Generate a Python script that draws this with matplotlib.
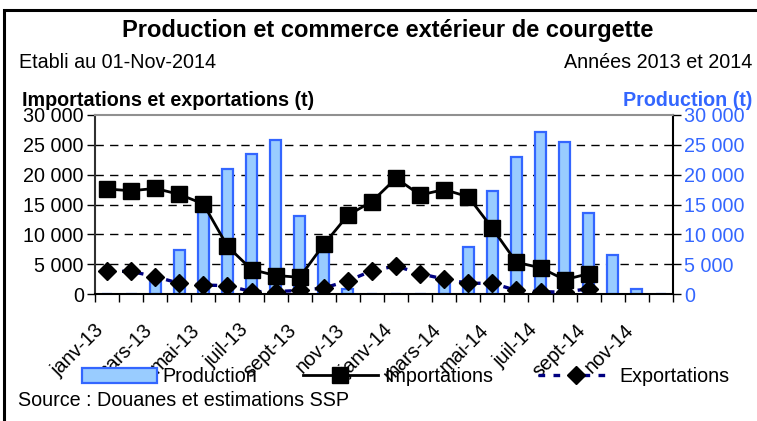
import matplotlib
matplotlib.use("Agg")
import matplotlib.pyplot as plt
import matplotlib.transforms as mtransforms
from matplotlib.patches import Rectangle
import numpy as np

plt.rcParams["font.family"] = ["Liberation Sans", "DejaVu Sans"]

months = ["janv-13", "févr-13", "mars-13", "avr-13", "mai-13", "juin-13",
          "juil-13", "août-13", "sept-13", "oct-13", "nov-13", "déc-13",
          "janv-14", "févr-14", "mars-14", "avr-14", "mai-14", "juin-14",
          "juil-14", "août-14", "sept-14", "oct-14", "nov-14", "déc-14"]
production = [0, 0, 2100, 7300, 13800, 20900, 23400, 25800, 13100, 7100, 800, 0,
              0, 0, 2200, 7800, 17300, 22900, 27100, 25400, 13500, 6600, 800, 0]
importations = [17600, 17300, 17700, 16700, 15100, 8000, 4100, 3100, 2800, 8300, 13200, 15500,
                19400, 16600, 17500, 16300, 11000, 5300, 4400, 2400, 3400]
exportations = [3800, 3800, 2900, 1800, 1500, 1400, 400, 400, 600, 1000, 2200, 3900,
                4700, 3400, 2500, 1800, 1800, 600, 400, 300, 900]
yticks = [0, 5000, 10000, 15000, 20000, 25000, 30000]
ytick_labels = ["0", "5 000", "10 000", "15 000", "20 000", "25 000", "30 000"]

BAR_FILL = "#99ccff"
BAR_EDGE = "#3366ff"
RIGHT_BLUE = "#3366ff"
FS = 14.2

W, H = 757, 421
fig = plt.figure(figsize=(W / 100, H / 100), dpi=100)
fig.patch.set_facecolor("white")

# outer frame (right and bottom edges fall outside the picture)
fig.patches.append(Rectangle((4 / W, -0.1), 1.2, (H - 10) / H + 0.1, transform=fig.transFigure,
                             fill=False, edgecolor="black", linewidth=2.2, zorder=0))

ax = fig.add_axes([95 / W, 1 - 294 / H, (673 - 95) / W, (294 - 115) / H])
x = np.arange(len(months))

bars = ax.bar(x, production, width=0.45, color=BAR_FILL, edgecolor=BAR_EDGE, linewidth=1.6,
              zorder=2, label="Production")
xi = np.arange(len(importations))
(imp_line,) = ax.plot(xi, importations, color="black", linewidth=2, marker="s", markersize=11,
                      markerfacecolor="black", zorder=4, label="Importations")
xe = np.arange(len(exportations))
(exp_line,) = ax.plot(xe, exportations, color="#000080", linewidth=2.4, linestyle=(0, (2, 2.5)),
                      marker="D", markersize=9, markerfacecolor="black", markeredgecolor="black",
                      zorder=3, label="Exportations")

ax.set_xlim(-0.5, len(months) - 0.5)
ax.set_ylim(0, 30000)
for yv in yticks[1:-1]:
    ax.axhline(yv, color="black", linewidth=1, linestyle=(0, (6, 4.5)), zorder=1)

ax.set_yticks(yticks)
ax.set_yticklabels(ytick_labels, fontsize=FS)
ax.tick_params(axis="y", direction="out", length=6, width=1, pad=2)

ax.set_xticks(np.arange(-0.5, len(months) + 0.5, 1))
ax.set_xticklabels([])
ax.tick_params(axis="x", which="major", direction="out", length=6, width=1)
ax.set_xticks(x[::2], months[::2], minor=True)
ax.tick_params(axis="x", which="minor", length=0, pad=19)
shift = mtransforms.ScaledTranslation(-13 / 100, 0, fig.dpi_scale_trans)
for lab in ax.get_xticklabels(minor=True):
    lab.set_rotation(45)
    lab.set_ha("right")
    lab.set_va("top")
    lab.set_rotation_mode("anchor")
    lab.set_fontsize(FS)
    lab.set_transform(lab.get_transform() + shift)

ax.spines["top"].set_color("#909090")
ax.spines["top"].set_linewidth(1.5)
ax.spines["left"].set_color("#303030")
ax.spines["left"].set_linewidth(1.5)
ax.spines["right"].set_linewidth(1.5)
ax.spines["bottom"].set_linewidth(1.5)

ax2 = ax.twinx()
ax2.set_ylim(0, 30000)
ax2.set_yticks(yticks)
ax2.set_yticklabels(ytick_labels, fontsize=FS, color=RIGHT_BLUE)
ax2.tick_params(axis="y", direction="out", length=6, width=1, pad=2)
for s in ax2.spines.values():
    s.set_visible(False)

fig.text(388 / W, 1 - 30 / H, "Production et commerce extérieur de courgette",
         ha="center", va="center", fontsize=17, fontweight="bold")
fig.text(19 / W, 1 - 62 / H, "Etabli au 01-Nov-2014", ha="left", va="center", fontsize=FS)
fig.text(752 / W, 1 - 62 / H, "Années 2013 et 2014", ha="right", va="center", fontsize=FS)
fig.text(22 / W, 1 - 101 / H, "Importations et exportations (t)", ha="left", va="center",
         fontsize=FS, fontweight="bold")
fig.text(752 / W, 1 - 101 / H, "Production (t)", ha="right", va="center", fontsize=FS,
         fontweight="bold", color=RIGHT_BLUE)
fig.text(18 / W, 1 - 400 / H, "Source : Douanes et estimations SSP", ha="left", va="center",
         fontsize=FS)

fig.legend(handles=[bars, imp_line, exp_line], loc="center left",
           bbox_to_anchor=(82 / W, 1 - 377 / H), ncol=3, frameon=False, fontsize=FS,
           handlelength=3.8, handleheight=0.75, handletextpad=0.3, columnspacing=2.3,
           borderpad=0, borderaxespad=0)

fig.savefig("out.png", dpi=100)
